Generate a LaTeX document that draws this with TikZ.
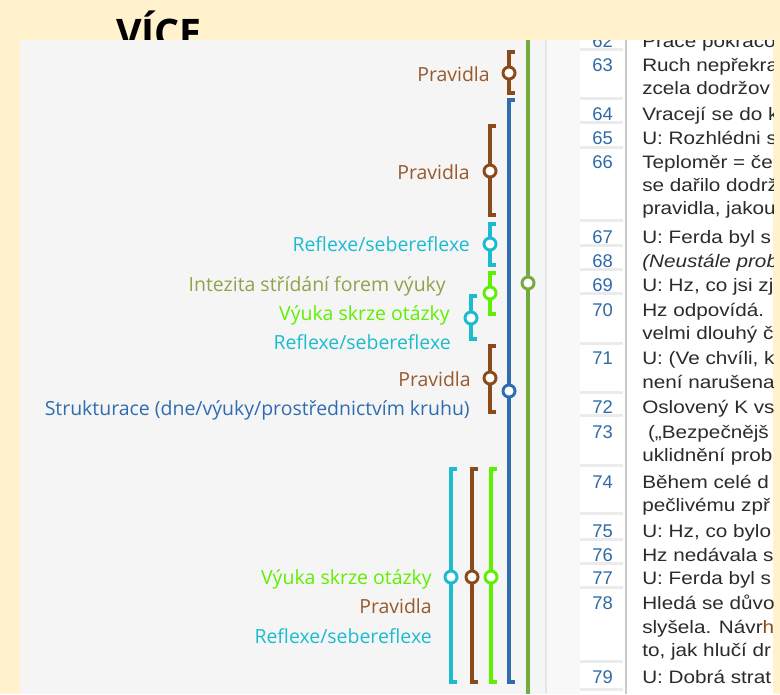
\documentclass[tikz,border=0pt]{standalone}
\usepackage{fontspec}
\setmainfont{Liberation Sans}[FakeStretch=1.15]
\newfontfamily\numf{Liberation Sans}
\newfontfamily\labf{Open Sans}
\definecolor{bgy}{HTML}{FFF2CC}
\definecolor{pan}{HTML}{F5F5F5}
\definecolor{pan2}{HTML}{F8F8F8}
\definecolor{cbrown}{HTML}{8B4A1A}
\definecolor{lbrown}{HTML}{985A2C}
\definecolor{cblue}{HTML}{2F6DB0}
\definecolor{ccyan}{HTML}{1CBCD0}
\definecolor{clime}{HTML}{5EF000}
\definecolor{colive}{HTML}{74AA3F}
\definecolor{lolive}{HTML}{8DA44A}
\definecolor{numc}{HTML}{2F6AA6}
\definecolor{txtc}{HTML}{2B2B2B}
\definecolor{sepc}{HTML}{EBEBEB}
\definecolor{divc}{HTML}{C9C9C9}
\definecolor{faintc}{HTML}{E6E6E6}
\tikzset{
  lbl/.style={anchor=base east, inner sep=0pt, font=\labf\fontsize{14.6}{17}\selectfont},
  numst/.style={anchor=base east, inner sep=0pt, text=numc, font=\numf\fontsize{13.8}{16}\selectfont},
  txtst/.style={anchor=base west, inner sep=0pt, text=txtc, font=\fontsize{13.5}{16}\selectfont},
  ring/.style={circle, inner sep=0pt, minimum size=9pt, line width=2.2pt, fill=white},
  brk/.style={line width=2.6pt, line join=miter},
  sepbar/.style={fill=sepc},
}
\newcommand\mybrk[6]{% color, x, top, bottom, circle y, name
  \coordinate (#6t) at (#2,#3);
  \coordinate (#6b) at (#2,#4);
  \draw[brk,#1] (#2+6,#3) -- (#6t) -- (#6b) -- (#2+6,#4);
  \node[ring,draw=#1] (#6) at (#2,#5) {};
}
\newcommand\sepat[1]{\fill[sepbar] (580,#1-1.5) rectangle (623,#1+1.5);}
\begin{document}
\begin{tikzpicture}[x=0.75pt,y=-0.75pt]
\useasboundingbox (0,0) rectangle (780,694);
\fill[bgy] (0,0) rectangle (780,694);
\node[anchor=base west, inner sep=0pt, font=\labf\bfseries\fontsize{29.5}{31}\selectfont] (title) at (116,47) {VÍCE};
\fill[pan] (20,40) rectangle (773,694);
\fill[pan2] (547,40) rectangle (580,694);
\draw[faintc, line width=0.8pt] (546,40) -- (546,694);
\fill[white] (580,40) rectangle (773,694);
\draw[divc, line width=1.1pt] (626,40) -- (626,694);
% separators
\foreach \s in {49,98,122,147,220,245,269,293,343,392,415,465,513,539,563,587,661,689} {\sepat{\s}}
% long olive line
\coordinate (olt) at (528,40);
\coordinate (olb) at (528,694);
\draw[brk,colive] (olt) -- (olb);
\node[ring,draw=colive] (oli) at (528,283) {};
% brackets
\mybrk{cbrown}{509}{52}{93}{73}{p1}
\mybrk{cblue}{509}{100}{682}{391}{st}
\mybrk{cbrown}{490}{126}{215}{171}{p2}
\mybrk{ccyan}{490}{224}{265}{244}{r1}
\mybrk{clime}{490}{273}{314}{293}{v1}
\mybrk{ccyan}{471}{296}{339}{318}{r2}
\mybrk{cbrown}{490}{346}{412}{378}{p3}
\mybrk{ccyan}{451}{469}{682}{577}{r3}
\mybrk{cbrown}{472}{469}{682}{577}{p4}
\mybrk{clime}{491}{469}{682}{577}{v2}
% labels
\node[lbl,text=lbrown] (lp1) at (490,81) {Pravidla};
\node[lbl,text=lbrown] (lp2) at (470,179) {Pravidla};
\node[lbl,text=ccyan] (lr1) at (470,251) {Reflexe/sebereflexe};
\node[lbl,text=lolive] (lol) at (446,291) {Intezita střídání forem výuky};
\node[lbl,text=clime] (lv1) at (450,320) {Výuka skrze otázky};
\node[lbl,text=ccyan] (lr2) at (451,349) {Reflexe/sebereflexe};
\node[lbl,text=lbrown] (lp3) at (471,386) {Pravidla};
\node[lbl,text=cblue] (lst) at (470,415) {Strukturace (dne/výuky/prostřednictvím kruhu)};
\node[lbl,text=clime] (lv2) at (432,584) {Výuka skrze otázky};
\node[lbl,text=lbrown] (lp4) at (432,613) {Pravidla};
\node[lbl,text=ccyan] (lr3) at (432,643) {Reflexe/sebereflexe};
% transcript column
\begin{scope}
\clip (580,40) rectangle (773,694);
\node[numst] (n62) at (613,47) {62};
\node[txtst] (t62) at (642,47) {Práce pokračo};
\node[numst] (n63) at (613,71) {63};
\node[txtst] (t63a) at (642,71) {Ruch nepřekra};
\node[txtst] (t63b) at (642,94) {zcela dodržov};
\node[numst] (n64) at (613,120) {64};
\node[txtst] (t64) at (642,120) {Vracejí se do k};
\node[numst] (n65) at (613,144) {65};
\node[txtst] (t65) at (642,144) {U: Rozhlédni s};
\node[numst] (n66) at (613,168) {66};
\node[txtst] (t66a) at (642,168) {Teploměr = če};
\node[txtst] (t66b) at (642,191) {se dařilo dodrž};
\node[txtst] (t66c) at (642,214) {pravidla, jakou};
\node[numst] (n67) at (613,243) {67};
\node[txtst] (t67) at (642,243) {U: Ferda byl s};
\node[numst] (n68) at (613,267) {68};
\node[txtst,font=\itshape\fontsize{13.5}{16}\selectfont] (t68) at (642,267) {(Neustále prob};
\node[numst] (n69) at (613,291) {69};
\node[txtst] (t69) at (642,291) {U: Hz, co jsi zj};
\node[numst] (n70) at (613,316) {70};
\node[txtst] (t70a) at (642,316) {Hz odpovídá.};
\node[txtst] (t70b) at (642,339) {velmi dlouhý č};
\node[numst] (n71) at (613,364) {71};
\node[txtst] (t71a) at (642,364) {U: (Ve chvíli, k};
\node[txtst] (t71b) at (642,388) {není narušena};
\node[numst] (n72) at (613,413) {72};
\node[txtst] (t72) at (642,413) {Oslovený K vs};
\node[numst] (n73) at (613,438) {73};
\node[txtst] (t73a) at (642,438) {\ („Bezpečnějš};
\node[txtst] (t73b) at (642,461) {uklidnění prob};
\node[numst] (n74) at (613,488) {74};
\node[txtst] (t74a) at (642,488) {Během celé d};
\node[txtst] (t74b) at (642,511) {pečlivému zpř};
\node[numst] (n75) at (613,537) {75};
\node[txtst] (t75) at (642,537) {U: Hz, co bylo};
\node[numst] (n76) at (613,561) {76};
\node[txtst] (t76) at (642,561) {Hz nedávala s};
\node[numst] (n77) at (613,584) {77};
\node[txtst] (t77) at (642,584) {U: Ferda byl s};
\node[numst] (n78) at (613,609) {78};
\node[txtst] (t78a) at (642,609) {Hledá se důvo};
\node[txtst] (t78b) at (642,633) {slyšela. Návr\textcolor{cbrown}{h}};
\node[txtst] (t78c) at (642,656) {to, jak hlučí dr};
\node[numst] (n79) at (613,683) {79};
\node[txtst] (t79) at (642,683) {U: Dobrá strat};
\end{scope}
\end{tikzpicture}
\end{document}
